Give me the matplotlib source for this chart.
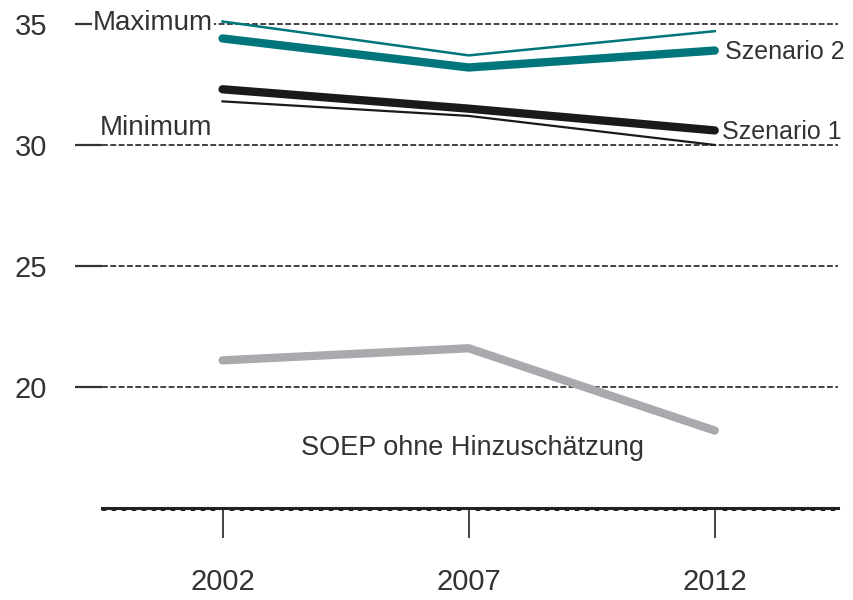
import matplotlib
matplotlib.use("Agg")
import matplotlib.pyplot as plt
from matplotlib.ticker import MultipleLocator

years = [2002, 2007, 2012]
maximum = [35.1, 33.7, 34.7]
szenario2 = [34.4, 33.2, 33.9]
szenario1 = [32.3, 31.5, 30.6]
minimum = [31.8, 31.2, 30.0]
soep = [21.1, 21.6, 18.2]
yticks = [20, 25, 30, 35]

teal = "#00767c"
black = "#1a1a1a"
grey = "#a9aaad"
txt = "#333333"

plt.rcParams["font.family"] = ["Liberation Sans Narrow", "Liberation Sans", "DejaVu Sans"]
plt.rcParams["font.size"] = 21

fig = plt.figure(figsize=(8.54, 6.0), dpi=100)
ax = fig.add_axes([0.1194, 0.1533, 0.8616, 0.827])

ax.set_xlim(1999.55, 2014.5)
ax.set_ylim(15, 35.5)

for s in ["top", "right", "left"]:
    ax.spines[s].set_visible(False)
ax.spines["bottom"].set_linewidth(2.2)
ax.spines["bottom"].set_color("#222222")

ax.set_yticks(yticks)
ax.set_xticks(years)
ax.xaxis.set_minor_locator(MultipleLocator(0.2))
ax.tick_params(axis="y", length=19.5, width=1.6, pad=20, colors=txt, labelcolor=txt)
ax.tick_params(axis="x", which="major", length=21.5, width=1.2, pad=22, colors="#222222", labelcolor=txt)
ax.tick_params(axis="x", which="minor", length=2.2, width=3.2, colors="#222222")
ax.grid(axis="y", color="#222222", linestyle=(0, (3.5, 1.5)), linewidth=1.2)
ax.set_axisbelow(True)

ax.plot(years, soep, color=grey, linewidth=6, solid_capstyle="round", zorder=3)
ax.plot(years, minimum, color=black, linewidth=1.6, zorder=3)
ax.plot(years, szenario1, color=black, linewidth=6, solid_capstyle="round", zorder=3)
ax.plot(years, maximum, color=teal, linewidth=1.8, zorder=3)
ax.plot(years, szenario2, color=teal, linewidth=6, solid_capstyle="round", zorder=3)

box = dict(facecolor="white", edgecolor="none", pad=0.5)
ax.text(2001.8, maximum[0] - 0.05, "Maximum", ha="right", va="center", fontsize=20, color=txt, bbox=box, zorder=4)
ax.text(2001.8, 30.15, "Minimum", ha="right", va="bottom", fontsize=20, color=txt, zorder=4)
ax.text(2012.2, szenario2[2] - 0.05, "Szenario 2", ha="left", va="center", fontsize=18, color=txt, zorder=4)
ax.text(2012.15, szenario1[2] - 0.05, "Szenario 1", ha="left", va="center", fontsize=18, color=txt, zorder=4)
ax.text(2003.6, 17.5, "SOEP ohne Hinzuschätzung", ha="left", va="center", fontsize=19.5, color=txt, zorder=4)

fig.savefig("out.png", dpi=100)
